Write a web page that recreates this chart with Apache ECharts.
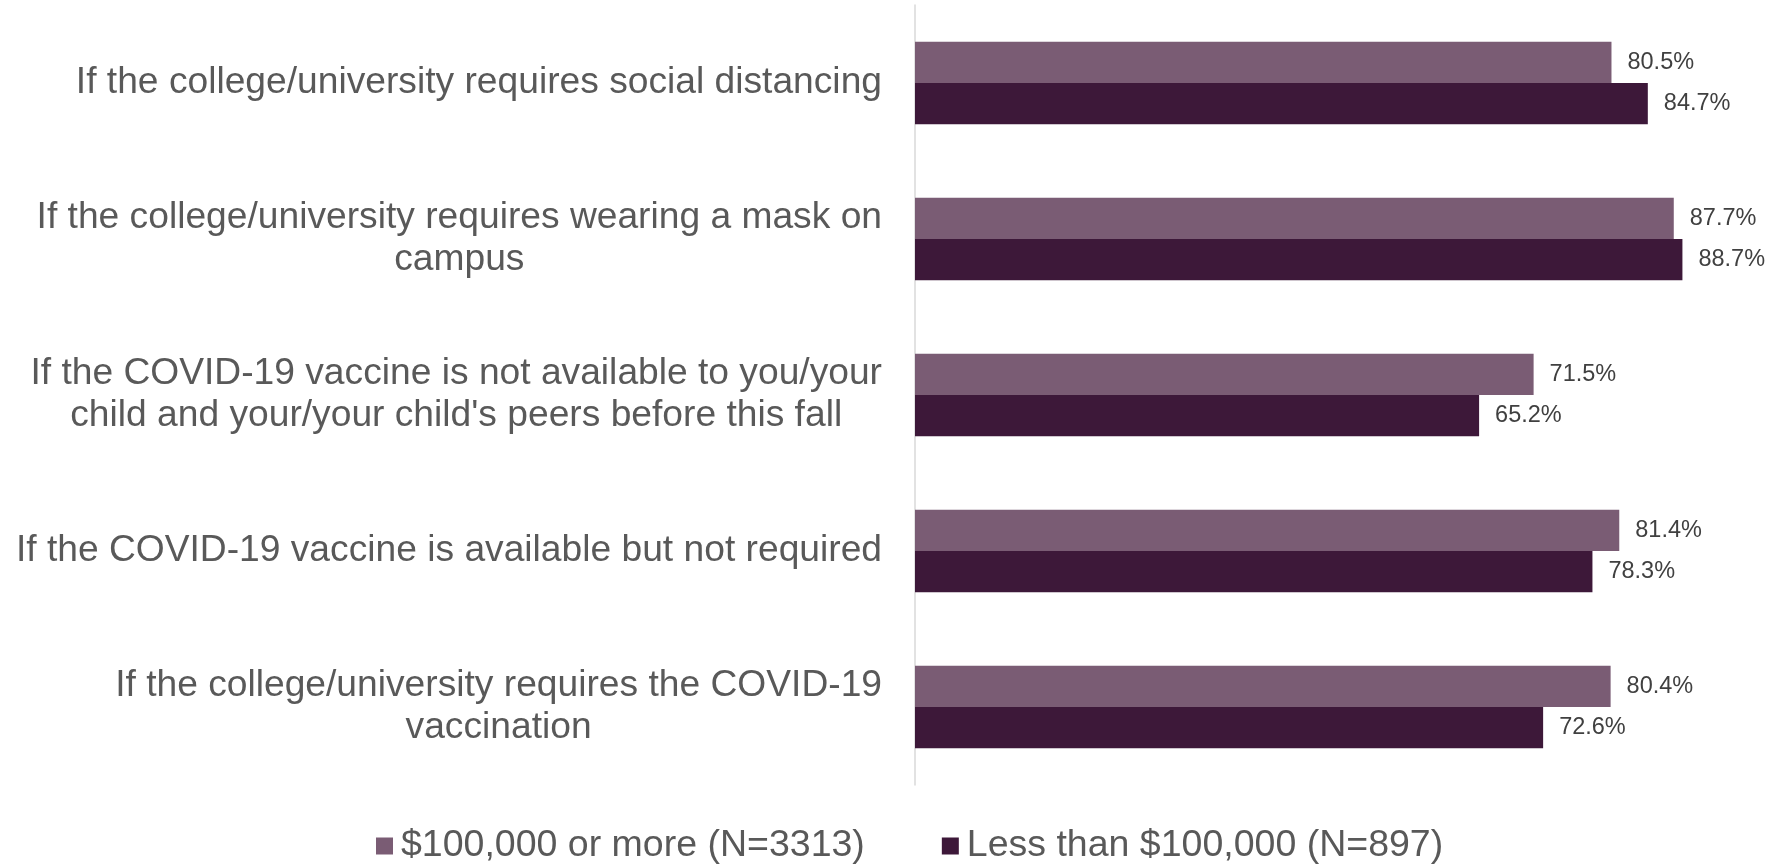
<!DOCTYPE html>
<html>
<head>
<meta charset="utf-8">
<style>
  html, body { margin: 0; padding: 0; background: #ffffff; }
  #chart { width: 1775px; height: 865px; }
</style>
<script src="https://cdn.jsdelivr.net/npm/echarts@6/dist/echarts.min.js"></script>
</head>
<body>
<div id="chart"></div>
<script>
// Survey conditions (top to bottom)
const categories = [
  "If the college/university requires social distancing",
  "If the college/university requires wearing a mask on\ncampus",
  "If the COVID-19 vaccine is not available to you/your\nchild and your/your child's peers before this fall",
  "If the COVID-19 vaccine is available but not required",
  "If the college/university requires the COVID-19\nvaccination"
];

// Share of respondents (%) by household income
const seriesNames = ["$100,000 or more (N=3313)", "Less than $100,000 (N=897)"];
const highIncome = [80.5, 87.7, 71.5, 81.4, 80.4];
const lowIncome = [84.7, 88.7, 65.2, 78.3, 72.6];

const FONT = "'Liberation Sans', Arial, sans-serif";
const colors = ["#7a5c74", "#3d1839"];

const chart = echarts.init(document.getElementById("chart"), null, { renderer: "canvas" });

const valueLabel = {
  show: true,
  position: "right",
  distance: 16,
  fontFamily: FONT,
  fontSize: 23.5,
  color: "#404040",
  formatter: p => p.value.toFixed(1) + "%"
};

chart.setOption({
  animation: false,
  backgroundColor: "#ffffff",
  color: colors,
  grid: { left: 915, top: 5, right: 0, bottom: 80, containLabel: false },
  legend: {
    top: 821,
    left: 371,
    itemWidth: 17,
    itemHeight: 17,
    itemGap: 77,
    icon: "rect",
    textStyle: { fontFamily: FONT, fontSize: 37.5, lineHeight: 40, color: "#595959", padding: [0, 0, 0, 3] },
    data: seriesNames
  },
  xAxis: {
    type: "value",
    min: 0,
    max: 99.4,
    show: false
  },
  yAxis: {
    type: "category",
    inverse: true,
    data: categories,
    axisLine: { show: true, lineStyle: { color: "#d9d9d9", width: 1.5 } },
    axisTick: { show: false },
    splitLine: { show: false },
    axisLabel: {
      margin: 33,
      align: "right",
      formatter: v => v.split("\n").map(l => "{c|" + l + "}").join("\n"),
      rich: {
        c: { align: "center", fontFamily: FONT, fontSize: 37.2, lineHeight: 42, color: "#595959" }
      }
    }
  },
  series: [
    {
      name: seriesNames[0],
      type: "bar",
      data: highIncome,
      barGap: "0%",
      barCategoryGap: "47%",
      itemStyle: { color: colors[0] },
      label: valueLabel
    },
    {
      name: seriesNames[1],
      type: "bar",
      data: lowIncome,
      barGap: "0%",
      barCategoryGap: "47%",
      itemStyle: { color: colors[1] },
      label: valueLabel
    }
  ]
});
</script>
</body>
</html>
